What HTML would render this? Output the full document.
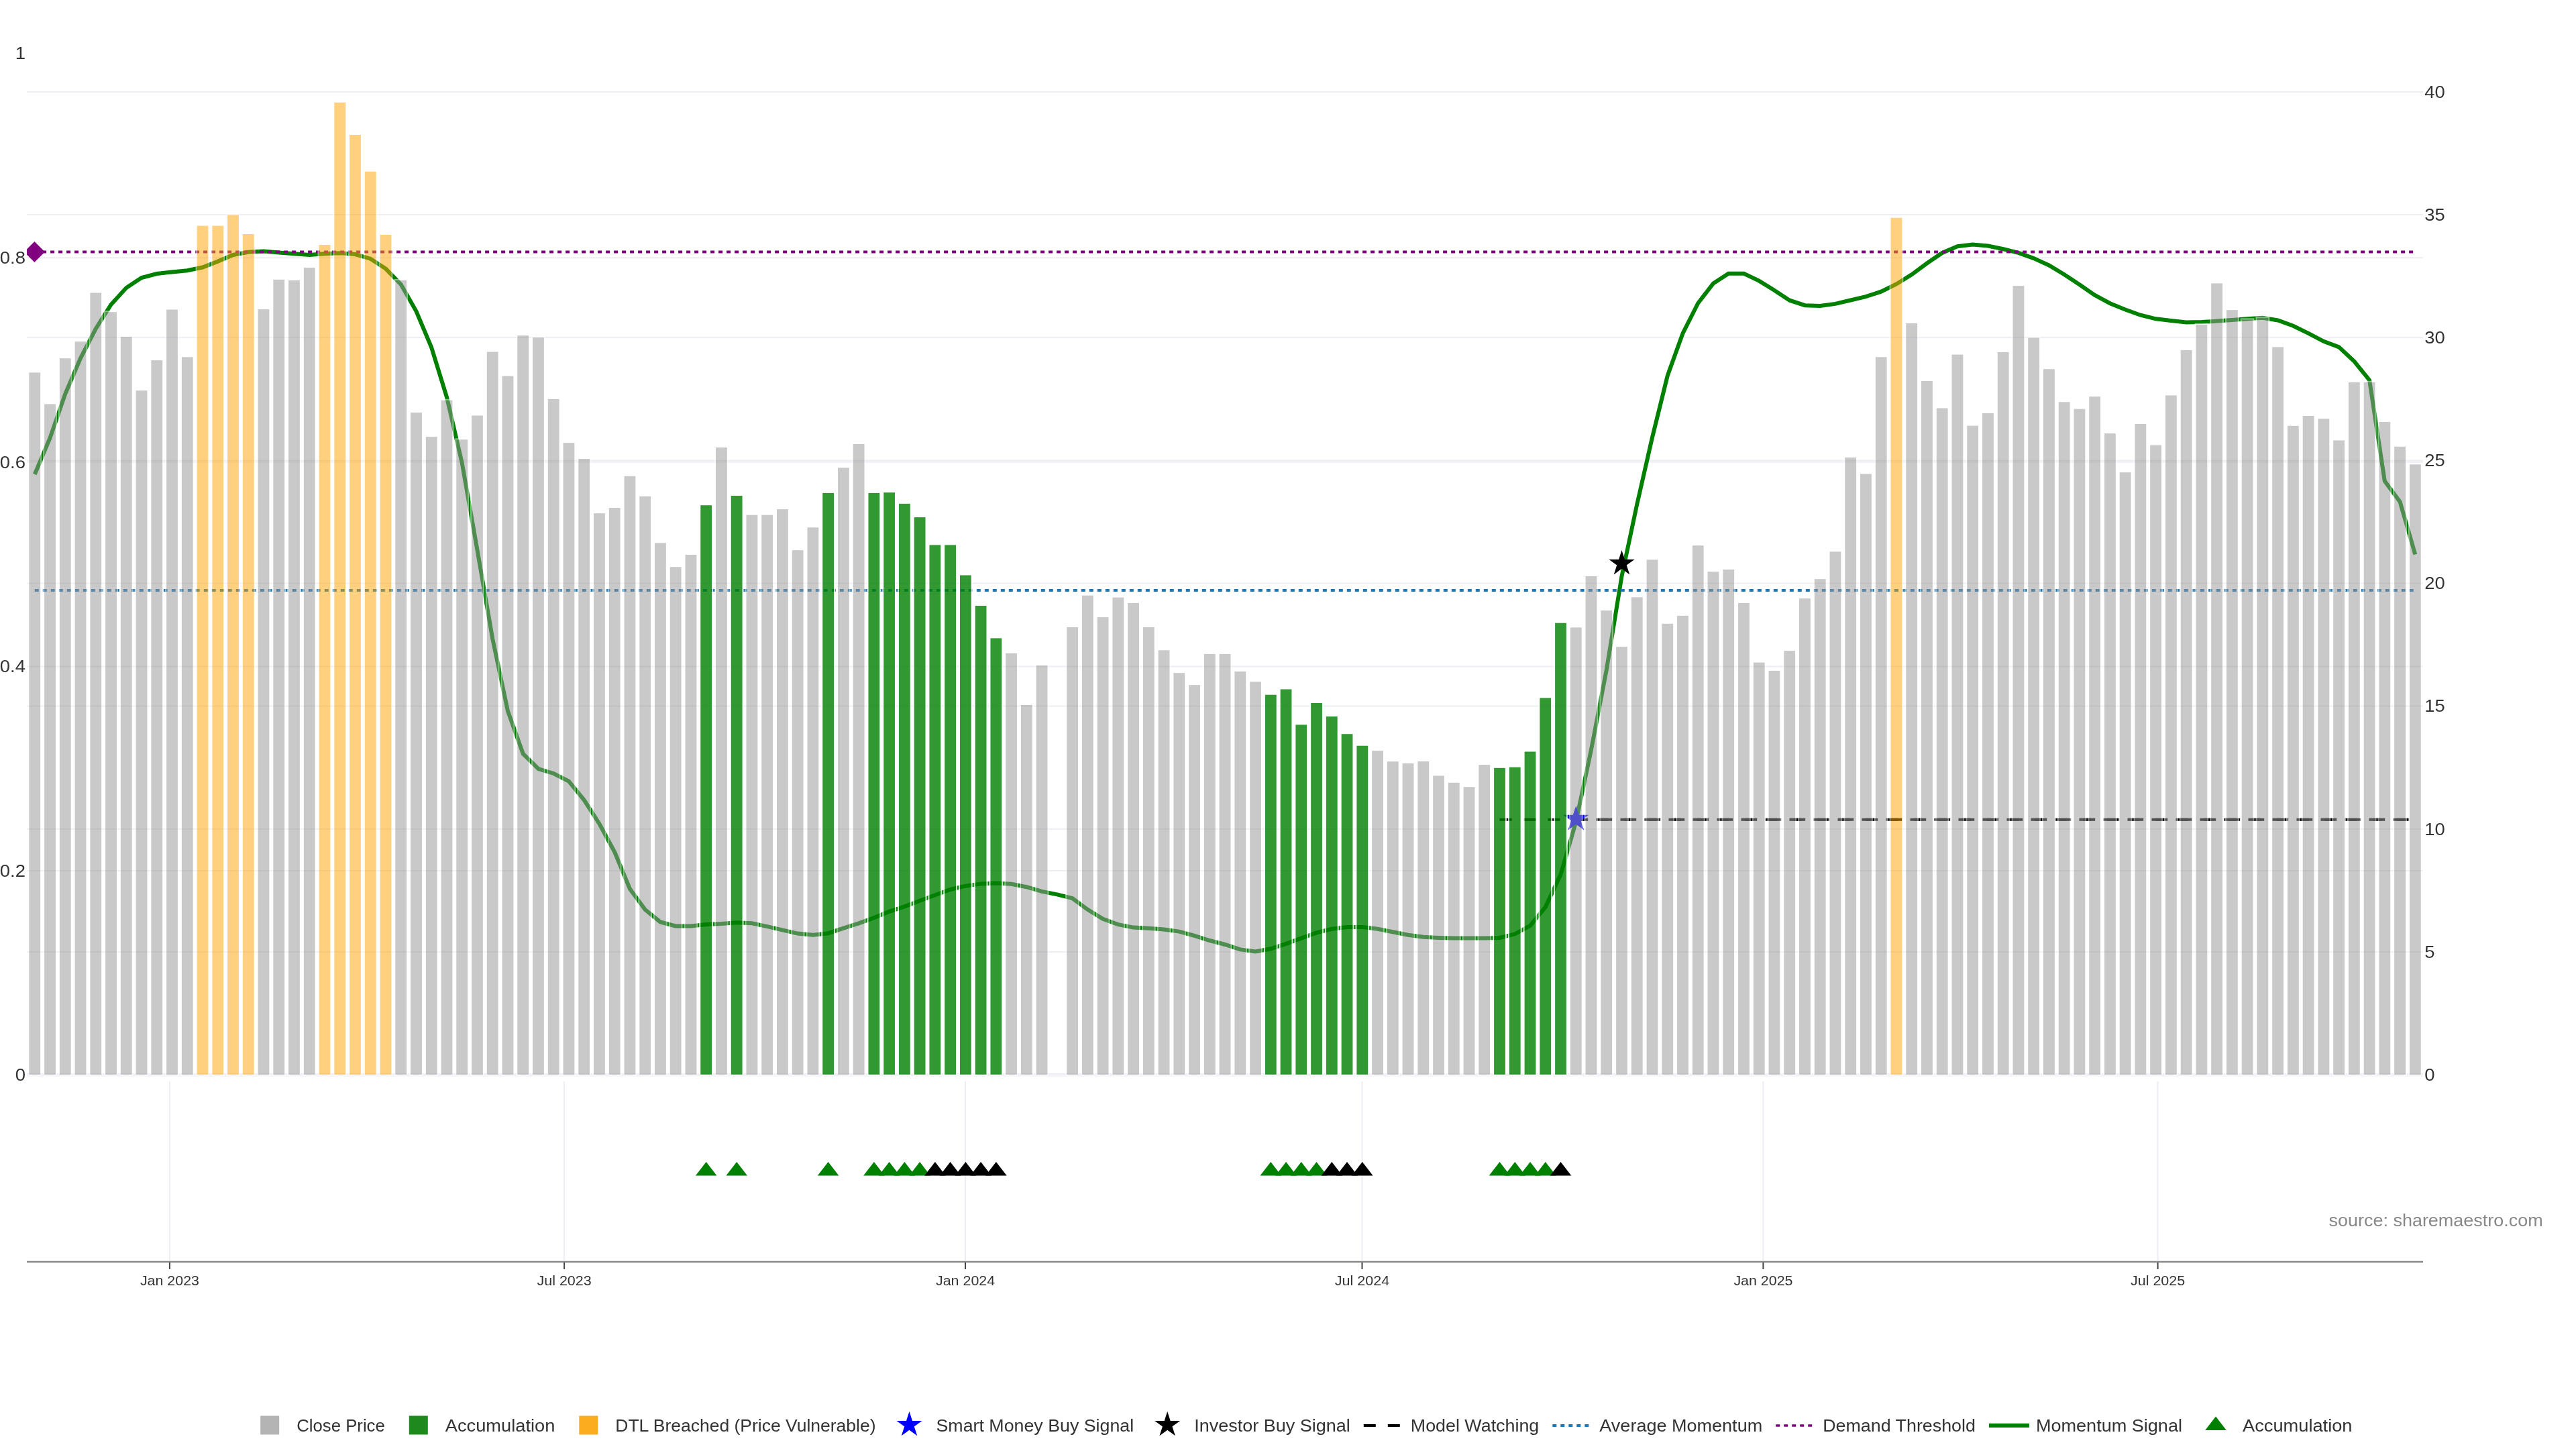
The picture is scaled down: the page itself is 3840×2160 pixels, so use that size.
<!DOCTYPE html><html><head><meta charset="utf-8"><style>html,body{margin:0;padding:0;background:#fff;width:3840px;height:2160px;overflow:hidden}svg{display:block;will-change:transform}</style></head><body>
<svg width="3840" height="2160" viewBox="0 0 3840 2160" style="font-family:'Liberation Sans',sans-serif">
<rect width="3840" height="2160" fill="#fff"/>
<defs><clipPath id="pc"><rect x="40" y="40" width="3572" height="1575"/></clipPath></defs>
<line x1="40" x2="3612" y1="1601.0" y2="1601.0" stroke="#ededf4" stroke-width="2"/>
<line x1="40" x2="3612" y1="1418.9" y2="1418.9" stroke="#ededf4" stroke-width="2"/>
<line x1="40" x2="3612" y1="1235.8" y2="1235.8" stroke="#ededf4" stroke-width="2"/>
<line x1="40" x2="3612" y1="1052.6" y2="1052.6" stroke="#ededf4" stroke-width="2"/>
<line x1="40" x2="3612" y1="869.5" y2="869.5" stroke="#ededf4" stroke-width="2"/>
<line x1="40" x2="3612" y1="686.4" y2="686.4" stroke="#ededf4" stroke-width="2"/>
<line x1="40" x2="3612" y1="503.2" y2="503.2" stroke="#ededf4" stroke-width="2"/>
<line x1="40" x2="3612" y1="320.1" y2="320.1" stroke="#ededf4" stroke-width="2"/>
<line x1="40" x2="3612" y1="137.0" y2="137.0" stroke="#ededf4" stroke-width="2"/>
<line x1="40" x2="3612" y1="1298.0" y2="1298.0" stroke="#ededf4" stroke-width="2"/>
<line x1="40" x2="3612" y1="993.4" y2="993.4" stroke="#ededf4" stroke-width="2"/>
<line x1="40" x2="3612" y1="688.8" y2="688.8" stroke="#ededf4" stroke-width="2"/>
<line x1="40" x2="3612" y1="384.2" y2="384.2" stroke="#ededf4" stroke-width="2"/>
<line x1="40" x2="3612" y1="1603.6" y2="1603.6" stroke="#f0f0f4" stroke-width="1.6"/>
<line x1="252.9" x2="252.9" y1="1612" y2="1879" stroke="#ededf4" stroke-width="2"/>
<line x1="841.1" x2="841.1" y1="1612" y2="1879" stroke="#ededf4" stroke-width="2"/>
<line x1="1439.0" x2="1439.0" y1="1612" y2="1879" stroke="#ededf4" stroke-width="2"/>
<line x1="2030.5" x2="2030.5" y1="1612" y2="1879" stroke="#ededf4" stroke-width="2"/>
<line x1="2628.4" x2="2628.4" y1="1612" y2="1879" stroke="#ededf4" stroke-width="2"/>
<line x1="3216.6" x2="3216.6" y1="1612" y2="1879" stroke="#ededf4" stroke-width="2"/>
<line x1="40" x2="3612" y1="1881" y2="1881" stroke="#8a8a8a" stroke-width="2.4"/>
<line x1="252.9" x2="252.9" y1="1882" y2="1892" stroke="#444" stroke-width="2"/>
<text x="208.9" y="1916" font-size="21.10" fill="#333" textLength="88.1" lengthAdjust="spacingAndGlyphs">Jan 2023</text>
<line x1="841.1" x2="841.1" y1="1882" y2="1892" stroke="#444" stroke-width="2"/>
<text x="800.4" y="1916" font-size="21.10" fill="#333" textLength="81.4" lengthAdjust="spacingAndGlyphs">Jul 2023</text>
<line x1="1439.0" x2="1439.0" y1="1882" y2="1892" stroke="#444" stroke-width="2"/>
<text x="1395.0" y="1916" font-size="21.10" fill="#333" textLength="88.1" lengthAdjust="spacingAndGlyphs">Jan 2024</text>
<line x1="2030.5" x2="2030.5" y1="1882" y2="1892" stroke="#444" stroke-width="2"/>
<text x="1989.8" y="1916" font-size="21.10" fill="#333" textLength="81.4" lengthAdjust="spacingAndGlyphs">Jul 2024</text>
<line x1="2628.4" x2="2628.4" y1="1882" y2="1892" stroke="#444" stroke-width="2"/>
<text x="2584.4" y="1916" font-size="21.10" fill="#333" textLength="88.1" lengthAdjust="spacingAndGlyphs">Jan 2025</text>
<line x1="3216.6" x2="3216.6" y1="1882" y2="1892" stroke="#444" stroke-width="2"/>
<text x="3175.9" y="1916" font-size="21.10" fill="#333" textLength="81.4" lengthAdjust="spacingAndGlyphs">Jul 2025</text>
<g clip-path="url(#pc)">
<polyline points="51.8,707.0 74.5,653.0 97.3,587.0 120.0,534.0 142.8,490.0 165.5,454.0 188.3,429.0 211.0,414.0 233.8,408.0 256.5,405.5 279.3,403.3 302.0,398.5 324.8,389.6 347.5,380.0 370.3,375.7 393.0,374.6 415.8,376.4 438.5,378.3 461.2,380.1 484.0,378.3 506.7,377.2 529.5,379.0 552.2,385.7 575.0,400.6 597.7,424.0 620.5,464.0 643.2,518.0 666.0,592.0 688.7,690.0 711.5,820.0 734.2,952.0 757.0,1060.0 779.7,1123.6 802.5,1146.0 825.2,1153.0 847.9,1164.6 870.7,1192.6 893.4,1228.0 916.2,1270.0 938.9,1325.0 961.7,1356.0 984.4,1374.4 1007.2,1380.4 1029.9,1380.4 1052.7,1378.1 1075.4,1377.0 1098.2,1375.2 1120.9,1376.3 1143.7,1381.1 1166.4,1386.3 1189.1,1391.6 1211.9,1393.8 1234.6,1391.2 1257.4,1383.7 1280.1,1376.3 1302.9,1368.1 1325.6,1358.8 1348.4,1351.3 1371.1,1342.7 1393.9,1334.2 1416.6,1326.0 1439.4,1320.7 1462.1,1317.4 1484.9,1316.6 1507.6,1317.8 1530.4,1322.2 1553.1,1328.9 1575.8,1333.4 1598.6,1339.0 1621.3,1355.8 1644.1,1369.9 1666.8,1378.1 1689.6,1382.6 1712.3,1383.7 1735.1,1385.6 1757.8,1388.6 1780.6,1394.9 1803.3,1402.0 1826.1,1408.0 1848.8,1415.4 1871.6,1418.4 1894.3,1414.3 1917.1,1406.8 1939.8,1398.6 1962.5,1390.4 1985.3,1384.8 2008.0,1381.9 2030.8,1381.9 2053.5,1384.8 2076.3,1389.3 2099.0,1393.8 2121.8,1396.8 2144.5,1397.9 2167.3,1398.6 2190.0,1398.6 2212.8,1398.6 2235.5,1397.9 2258.3,1392.3 2281.0,1380.0 2303.8,1352.1 2326.5,1303.6 2349.2,1225.3 2372.0,1117.3 2394.7,999.0 2417.5,859.0 2440.2,752.0 2463.0,652.0 2485.7,560.2 2508.5,496.9 2531.2,452.0 2554.0,422.4 2576.7,407.8 2599.5,407.8 2622.2,418.6 2645.0,432.8 2667.7,447.7 2690.5,455.2 2713.2,455.9 2735.9,452.9 2758.7,447.5 2781.4,442.1 2804.2,434.7 2826.9,423.5 2849.7,409.3 2872.4,392.5 2895.2,377.0 2917.9,367.2 2940.7,364.6 2963.4,366.5 2986.2,371.3 3008.9,376.9 3031.7,385.1 3054.4,395.5 3077.2,409.3 3099.9,424.2 3122.6,439.9 3145.4,452.2 3168.1,461.5 3190.9,469.7 3213.6,475.3 3236.4,478.0 3259.1,480.5 3281.9,480.1 3304.6,478.6 3327.4,477.1 3350.1,475.3 3372.9,473.8 3395.6,477.5 3418.4,485.7 3441.1,496.9 3463.9,508.8 3486.6,517.4 3509.3,538.6 3532.1,566.7 3554.8,717.0 3577.6,748.0 3600.3,826.5" fill="none" stroke="#008000" stroke-width="6"/>
<line x1="51.8" x2="3600.3" y1="880" y2="880" stroke="#1f77b4" stroke-width="4" stroke-dasharray="6,6"/>
<line x1="51.1" x2="3600.3" y1="375.4" y2="375.4" stroke="#800080" stroke-width="4" stroke-dasharray="6,6"/>
<line x1="2235.5" x2="3600.3" y1="1221.7" y2="1221.7" stroke="#000" stroke-width="4" stroke-dasharray="18,18"/>
<line x1="2349.2" x2="3600.3" y1="1221.7" y2="1221.7" stroke="#000" stroke-width="4" stroke-dasharray="18,18"/>
<path transform="translate(2349.3,1221.0)" d="M4.50,-6.18H19.02L7.26,2.36L11.76,16.18L0,7.64L-11.76,16.18L-7.26,2.36L-19.02,-6.18H-4.50L0,-20.00Z" fill="#0000ff"/>
<path transform="translate(2417.5,840.2)" d="M4.50,-6.18H19.02L7.26,2.36L11.76,16.18L0,7.64L-11.76,16.18L-7.26,2.36L-19.02,-6.18H-4.50L0,-20.00Z" fill="#000"/>
<path d="M51.4,360 L66.9,375.5 L51.4,391 L35.9,375.5 Z" fill="#800080"/>
</g>
<g opacity="0.52" fill="#989898" stroke="#fff" stroke-width="2.0">
<rect x="42.40" y="554.4" width="18.80" height="1048.4"/>
<rect x="65.15" y="601.4" width="18.80" height="1001.4"/>
<rect x="87.89" y="533.2" width="18.80" height="1069.6"/>
<rect x="110.64" y="508.2" width="18.80" height="1094.6"/>
<rect x="133.39" y="435.5" width="18.80" height="1167.3"/>
<rect x="156.13" y="464.2" width="18.80" height="1138.6"/>
<rect x="178.88" y="501.1" width="18.80" height="1101.7"/>
<rect x="201.63" y="581.2" width="18.80" height="1021.6"/>
<rect x="224.38" y="536.1" width="18.80" height="1066.7"/>
<rect x="247.12" y="460.5" width="18.80" height="1142.3"/>
<rect x="269.87" y="531.3" width="18.80" height="1071.5"/>
<rect x="383.61" y="460.1" width="18.80" height="1142.7"/>
<rect x="406.35" y="415.8" width="18.80" height="1187.0"/>
<rect x="429.10" y="416.9" width="18.80" height="1185.9"/>
<rect x="451.85" y="398.0" width="18.80" height="1204.8"/>
<rect x="588.33" y="416.9" width="18.80" height="1185.9"/>
<rect x="611.07" y="614.0" width="18.80" height="988.8"/>
<rect x="633.82" y="650.2" width="18.80" height="952.6"/>
<rect x="656.57" y="595.8" width="18.80" height="1007.0"/>
<rect x="679.32" y="654.3" width="18.80" height="948.5"/>
<rect x="702.06" y="618.5" width="18.80" height="984.3"/>
<rect x="724.81" y="523.5" width="18.80" height="1079.3"/>
<rect x="747.56" y="559.6" width="18.80" height="1043.2"/>
<rect x="770.30" y="499.2" width="18.80" height="1103.6"/>
<rect x="793.05" y="502.2" width="18.80" height="1100.6"/>
<rect x="815.80" y="593.9" width="18.80" height="1008.9"/>
<rect x="838.54" y="659.1" width="18.80" height="943.7"/>
<rect x="861.29" y="683.0" width="18.80" height="919.8"/>
<rect x="884.04" y="764.2" width="18.80" height="838.6"/>
<rect x="906.79" y="756.0" width="18.80" height="846.8"/>
<rect x="929.53" y="708.8" width="18.80" height="894.0"/>
<rect x="952.28" y="739.0" width="18.80" height="863.8"/>
<rect x="975.03" y="808.4" width="18.80" height="794.4"/>
<rect x="997.77" y="844.2" width="18.80" height="758.6"/>
<rect x="1020.52" y="826.0" width="18.80" height="776.8"/>
<rect x="1066.01" y="666.1" width="18.80" height="936.7"/>
<rect x="1111.51" y="766.7" width="18.80" height="836.1"/>
<rect x="1134.26" y="766.7" width="18.80" height="836.1"/>
<rect x="1157.00" y="758.1" width="18.80" height="844.7"/>
<rect x="1179.75" y="819.2" width="18.80" height="783.6"/>
<rect x="1202.50" y="785.3" width="18.80" height="817.5"/>
<rect x="1247.99" y="696.3" width="18.80" height="906.5"/>
<rect x="1270.74" y="660.9" width="18.80" height="941.9"/>
<rect x="1498.21" y="972.8" width="18.80" height="630.0"/>
<rect x="1520.95" y="1049.9" width="18.80" height="552.9"/>
<rect x="1543.70" y="991.0" width="18.80" height="611.8"/>
<rect x="1589.20" y="934.0" width="18.80" height="668.8"/>
<rect x="1611.94" y="886.7" width="18.80" height="716.1"/>
<rect x="1634.69" y="919.1" width="18.80" height="683.7"/>
<rect x="1657.44" y="889.7" width="18.80" height="713.1"/>
<rect x="1680.18" y="897.9" width="18.80" height="704.9"/>
<rect x="1702.93" y="934.0" width="18.80" height="668.8"/>
<rect x="1725.68" y="968.3" width="18.80" height="634.5"/>
<rect x="1748.42" y="1002.2" width="18.80" height="600.6"/>
<rect x="1771.17" y="1020.1" width="18.80" height="582.7"/>
<rect x="1793.92" y="973.9" width="18.80" height="628.9"/>
<rect x="1816.67" y="973.9" width="18.80" height="628.9"/>
<rect x="1839.41" y="1000.0" width="18.80" height="602.8"/>
<rect x="1862.16" y="1015.3" width="18.80" height="587.5"/>
<rect x="2044.14" y="1118.1" width="18.80" height="484.7"/>
<rect x="2066.88" y="1134.2" width="18.80" height="468.6"/>
<rect x="2089.63" y="1137.0" width="18.80" height="465.8"/>
<rect x="2112.38" y="1134.0" width="18.80" height="468.8"/>
<rect x="2135.12" y="1155.4" width="18.80" height="447.4"/>
<rect x="2157.87" y="1165.8" width="18.80" height="437.0"/>
<rect x="2180.62" y="1172.2" width="18.80" height="430.6"/>
<rect x="2203.37" y="1139.0" width="18.80" height="463.8"/>
<rect x="2339.85" y="934.4" width="18.80" height="668.4"/>
<rect x="2362.59" y="858.0" width="18.80" height="744.8"/>
<rect x="2385.34" y="909.1" width="18.80" height="693.7"/>
<rect x="2408.09" y="963.1" width="18.80" height="639.7"/>
<rect x="2430.84" y="889.3" width="18.80" height="713.5"/>
<rect x="2453.58" y="833.4" width="18.80" height="769.4"/>
<rect x="2476.33" y="928.8" width="18.80" height="674.0"/>
<rect x="2499.08" y="916.9" width="18.80" height="685.9"/>
<rect x="2521.82" y="812.2" width="18.80" height="790.6"/>
<rect x="2544.57" y="851.3" width="18.80" height="751.5"/>
<rect x="2567.32" y="848.0" width="18.80" height="754.8"/>
<rect x="2590.06" y="897.9" width="18.80" height="704.9"/>
<rect x="2612.81" y="986.6" width="18.80" height="616.2"/>
<rect x="2635.56" y="998.9" width="18.80" height="603.9"/>
<rect x="2658.31" y="969.1" width="18.80" height="633.7"/>
<rect x="2681.05" y="891.2" width="18.80" height="711.6"/>
<rect x="2703.80" y="862.2" width="18.80" height="740.6"/>
<rect x="2726.55" y="821.4" width="18.80" height="781.4"/>
<rect x="2749.29" y="681.0" width="18.80" height="921.8"/>
<rect x="2772.04" y="705.5" width="18.80" height="897.3"/>
<rect x="2794.79" y="531.3" width="18.80" height="1071.5"/>
<rect x="2840.28" y="481.0" width="18.80" height="1121.8"/>
<rect x="2863.03" y="567.0" width="18.80" height="1035.8"/>
<rect x="2885.78" y="607.5" width="18.80" height="995.3"/>
<rect x="2908.52" y="527.6" width="18.80" height="1075.2"/>
<rect x="2931.27" y="633.7" width="18.80" height="969.1"/>
<rect x="2954.02" y="615.0" width="18.80" height="987.8"/>
<rect x="2976.76" y="523.9" width="18.80" height="1078.9"/>
<rect x="2999.51" y="425.1" width="18.80" height="1177.7"/>
<rect x="3022.26" y="502.6" width="18.80" height="1100.2"/>
<rect x="3045.00" y="549.2" width="18.80" height="1053.6"/>
<rect x="3067.75" y="598.3" width="18.80" height="1004.5"/>
<rect x="3090.50" y="608.7" width="18.80" height="994.1"/>
<rect x="3113.24" y="590.2" width="18.80" height="1012.6"/>
<rect x="3135.99" y="645.1" width="18.80" height="957.7"/>
<rect x="3158.74" y="703.2" width="18.80" height="899.6"/>
<rect x="3181.49" y="631.0" width="18.80" height="971.8"/>
<rect x="3204.23" y="662.6" width="18.80" height="940.2"/>
<rect x="3226.98" y="588.4" width="18.80" height="1014.4"/>
<rect x="3249.73" y="520.9" width="18.80" height="1081.9"/>
<rect x="3272.47" y="482.9" width="18.80" height="1119.9"/>
<rect x="3295.22" y="421.4" width="18.80" height="1181.4"/>
<rect x="3317.97" y="461.2" width="18.80" height="1141.6"/>
<rect x="3340.72" y="475.4" width="18.80" height="1127.4"/>
<rect x="3363.46" y="472.8" width="18.80" height="1130.0"/>
<rect x="3386.21" y="516.4" width="18.80" height="1086.4"/>
<rect x="3408.96" y="633.8" width="18.80" height="969.0"/>
<rect x="3431.70" y="619.0" width="18.80" height="983.8"/>
<rect x="3454.45" y="623.2" width="18.80" height="979.6"/>
<rect x="3477.20" y="655.5" width="18.80" height="947.3"/>
<rect x="3499.94" y="568.8" width="18.80" height="1034.0"/>
<rect x="3522.69" y="568.8" width="18.80" height="1034.0"/>
<rect x="3545.44" y="628.0" width="18.80" height="974.8"/>
<rect x="3568.18" y="664.8" width="18.80" height="938.0"/>
<rect x="3590.93" y="691.3" width="18.80" height="911.5"/>
</g>
<g opacity="0.5" fill="#ffa500" stroke="#fff" stroke-width="2.0">
<rect x="292.62" y="335.6" width="18.80" height="1267.2"/>
<rect x="315.36" y="335.6" width="18.80" height="1267.2"/>
<rect x="338.11" y="319.5" width="18.80" height="1283.3"/>
<rect x="360.86" y="348.0" width="18.80" height="1254.8"/>
<rect x="474.59" y="364.0" width="18.80" height="1238.8"/>
<rect x="497.34" y="151.8" width="18.80" height="1451.0"/>
<rect x="520.09" y="200.0" width="18.80" height="1402.8"/>
<rect x="542.83" y="254.7" width="18.80" height="1348.1"/>
<rect x="565.58" y="349.0" width="18.80" height="1253.8"/>
<rect x="2817.53" y="323.7" width="18.80" height="1279.1"/>
</g>
<g opacity="0.8" fill="#008000" stroke="#fff" stroke-width="2.0">
<rect x="1043.27" y="752.2" width="18.80" height="850.6"/>
<rect x="1088.76" y="738.0" width="18.80" height="864.8"/>
<rect x="1225.24" y="733.9" width="18.80" height="868.9"/>
<rect x="1293.48" y="733.9" width="18.80" height="868.9"/>
<rect x="1316.23" y="733.2" width="18.80" height="869.6"/>
<rect x="1338.98" y="749.9" width="18.80" height="852.9"/>
<rect x="1361.73" y="770.1" width="18.80" height="832.7"/>
<rect x="1384.47" y="811.4" width="18.80" height="791.4"/>
<rect x="1407.22" y="811.4" width="18.80" height="791.4"/>
<rect x="1429.97" y="856.5" width="18.80" height="746.3"/>
<rect x="1452.71" y="902.0" width="18.80" height="700.8"/>
<rect x="1475.46" y="950.4" width="18.80" height="652.4"/>
<rect x="1884.91" y="1034.7" width="18.80" height="568.1"/>
<rect x="1907.65" y="1026.5" width="18.80" height="576.3"/>
<rect x="1930.40" y="1079.4" width="18.80" height="523.4"/>
<rect x="1953.15" y="1047.0" width="18.80" height="555.8"/>
<rect x="1975.89" y="1067.1" width="18.80" height="535.7"/>
<rect x="1998.64" y="1093.2" width="18.80" height="509.6"/>
<rect x="2021.39" y="1110.7" width="18.80" height="492.1"/>
<rect x="2226.11" y="1143.8" width="18.80" height="459.0"/>
<rect x="2248.86" y="1142.7" width="18.80" height="460.1"/>
<rect x="2271.61" y="1119.5" width="18.80" height="483.3"/>
<rect x="2294.35" y="1039.5" width="18.80" height="563.3"/>
<rect x="2317.10" y="927.7" width="18.80" height="675.1"/>
</g>
<path transform="translate(1052.7,1745.7)" d="M-15.82,6.85H15.82L0,-13.70Z" fill="#008000"/>
<path transform="translate(1098.2,1745.7)" d="M-15.82,6.85H15.82L0,-13.70Z" fill="#008000"/>
<path transform="translate(1234.6,1745.7)" d="M-15.82,6.85H15.82L0,-13.70Z" fill="#008000"/>
<path transform="translate(1302.9,1745.7)" d="M-15.82,6.85H15.82L0,-13.70Z" fill="#008000"/>
<path transform="translate(1325.6,1745.7)" d="M-15.82,6.85H15.82L0,-13.70Z" fill="#008000"/>
<path transform="translate(1348.4,1745.7)" d="M-15.82,6.85H15.82L0,-13.70Z" fill="#008000"/>
<path transform="translate(1371.1,1745.7)" d="M-15.82,6.85H15.82L0,-13.70Z" fill="#008000"/>
<path transform="translate(1894.3,1745.7)" d="M-15.82,6.85H15.82L0,-13.70Z" fill="#008000"/>
<path transform="translate(1917.1,1745.7)" d="M-15.82,6.85H15.82L0,-13.70Z" fill="#008000"/>
<path transform="translate(1939.8,1745.7)" d="M-15.82,6.85H15.82L0,-13.70Z" fill="#008000"/>
<path transform="translate(1962.5,1745.7)" d="M-15.82,6.85H15.82L0,-13.70Z" fill="#008000"/>
<path transform="translate(2235.5,1745.7)" d="M-15.82,6.85H15.82L0,-13.70Z" fill="#008000"/>
<path transform="translate(2258.3,1745.7)" d="M-15.82,6.85H15.82L0,-13.70Z" fill="#008000"/>
<path transform="translate(2281.0,1745.7)" d="M-15.82,6.85H15.82L0,-13.70Z" fill="#008000"/>
<path transform="translate(2303.8,1745.7)" d="M-15.82,6.85H15.82L0,-13.70Z" fill="#008000"/>
<path transform="translate(1393.9,1745.7)" d="M-15.82,6.85H15.82L0,-13.70Z" fill="#000"/>
<path transform="translate(1416.6,1745.7)" d="M-15.82,6.85H15.82L0,-13.70Z" fill="#000"/>
<path transform="translate(1439.4,1745.7)" d="M-15.82,6.85H15.82L0,-13.70Z" fill="#000"/>
<path transform="translate(1462.1,1745.7)" d="M-15.82,6.85H15.82L0,-13.70Z" fill="#000"/>
<path transform="translate(1484.9,1745.7)" d="M-15.82,6.85H15.82L0,-13.70Z" fill="#000"/>
<path transform="translate(1985.3,1745.7)" d="M-15.82,6.85H15.82L0,-13.70Z" fill="#000"/>
<path transform="translate(2008.0,1745.7)" d="M-15.82,6.85H15.82L0,-13.70Z" fill="#000"/>
<path transform="translate(2030.8,1745.7)" d="M-15.82,6.85H15.82L0,-13.70Z" fill="#000"/>
<path transform="translate(2326.5,1745.7)" d="M-15.82,6.85H15.82L0,-13.70Z" fill="#000"/>
<text x="22.7" y="88.4" font-size="25.32" fill="#333" textLength="15.3" lengthAdjust="spacingAndGlyphs">1</text>
<text x="-0.2" y="393.0" font-size="25.32" fill="#333" textLength="38.2" lengthAdjust="spacingAndGlyphs">0.8</text>
<text x="-0.2" y="697.6" font-size="25.32" fill="#333" textLength="38.2" lengthAdjust="spacingAndGlyphs">0.6</text>
<text x="-0.2" y="1002.2" font-size="25.32" fill="#333" textLength="38.2" lengthAdjust="spacingAndGlyphs">0.4</text>
<text x="-0.2" y="1306.8" font-size="25.32" fill="#333" textLength="38.2" lengthAdjust="spacingAndGlyphs">0.2</text>
<text x="22.7" y="1611.4" font-size="25.32" fill="#333" textLength="15.3" lengthAdjust="spacingAndGlyphs">0</text>
<text x="3614.3" y="1610.7" font-size="25.32" fill="#333" textLength="15.3" lengthAdjust="spacingAndGlyphs">0</text>
<text x="3614.3" y="1427.6" font-size="25.32" fill="#333" textLength="15.3" lengthAdjust="spacingAndGlyphs">5</text>
<text x="3614.3" y="1244.5" font-size="25.32" fill="#333" textLength="30.5" lengthAdjust="spacingAndGlyphs">10</text>
<text x="3614.3" y="1061.3" font-size="25.32" fill="#333" textLength="30.5" lengthAdjust="spacingAndGlyphs">15</text>
<text x="3614.3" y="878.2" font-size="25.32" fill="#333" textLength="30.5" lengthAdjust="spacingAndGlyphs">20</text>
<text x="3614.3" y="695.1" font-size="25.32" fill="#333" textLength="30.5" lengthAdjust="spacingAndGlyphs">25</text>
<text x="3614.3" y="511.9" font-size="25.32" fill="#333" textLength="30.5" lengthAdjust="spacingAndGlyphs">30</text>
<text x="3614.3" y="328.8" font-size="25.32" fill="#333" textLength="30.5" lengthAdjust="spacingAndGlyphs">35</text>
<text x="3614.3" y="145.7" font-size="25.32" fill="#333" textLength="30.5" lengthAdjust="spacingAndGlyphs">40</text>
<text x="3471.5" y="1828.0" font-size="25.32" fill="#888" textLength="319.2" lengthAdjust="spacingAndGlyphs">source: sharemaestro.com</text>
<rect x="388.2" y="2110.5" width="28" height="28" fill="#b4b4b4"/>
<text x="442.2" y="2134.2" font-size="25.32" fill="#333" textLength="131.6" lengthAdjust="spacingAndGlyphs">Close Price</text>
<rect x="609.8" y="2110.5" width="28" height="28" fill="#1e8a1e"/>
<text x="663.8" y="2134.2" font-size="25.32" fill="#333" textLength="163.5" lengthAdjust="spacingAndGlyphs">Accumulation</text>
<rect x="863.3" y="2110.5" width="28" height="28" fill="#fbad1f"/>
<text x="917.3" y="2134.2" font-size="25.32" fill="#333" textLength="388.2" lengthAdjust="spacingAndGlyphs">DTL Breached (Price Vulnerable)</text>
<path transform="translate(1355.5,2124.1)" d="M4.50,-6.18H19.02L7.26,2.36L11.76,16.18L0,7.64L-11.76,16.18L-7.26,2.36L-19.02,-6.18H-4.50L0,-20.00Z" fill="#0000ff"/>
<text x="1395.5" y="2134.2" font-size="25.32" fill="#333" textLength="294.7" lengthAdjust="spacingAndGlyphs">Smart Money Buy Signal</text>
<path transform="translate(1740.2,2124.1)" d="M4.50,-6.18H19.02L7.26,2.36L11.76,16.18L0,7.64L-11.76,16.18L-7.26,2.36L-19.02,-6.18H-4.50L0,-20.00Z" fill="#000"/>
<text x="1780.2" y="2134.2" font-size="25.32" fill="#333" textLength="232.6" lengthAdjust="spacingAndGlyphs">Investor Buy Signal</text>
<line x1="2032.8" x2="2092.8" y1="2125" y2="2125" stroke="#000" stroke-width="4" stroke-dasharray="18,18"/>
<text x="2102.8" y="2134.2" font-size="25.32" fill="#333" textLength="191.5" lengthAdjust="spacingAndGlyphs">Model Watching</text>
<line x1="2314.3" x2="2374.3" y1="2125" y2="2125" stroke="#1f77b4" stroke-width="4" stroke-dasharray="6,6"/>
<text x="2384.3" y="2134.2" font-size="25.32" fill="#333" textLength="242.9" lengthAdjust="spacingAndGlyphs">Average Momentum</text>
<line x1="2647.2" x2="2707.2" y1="2125" y2="2125" stroke="#800080" stroke-width="3.6" stroke-dasharray="6,6"/>
<text x="2717.2" y="2134.2" font-size="25.32" fill="#333" textLength="227.7" lengthAdjust="spacingAndGlyphs">Demand Threshold</text>
<line x1="2964.9" x2="3024.9" y1="2125" y2="2125" stroke="#008000" stroke-width="6"/>
<text x="3034.9" y="2134.2" font-size="25.32" fill="#333" textLength="218.1" lengthAdjust="spacingAndGlyphs">Momentum Signal</text>
<path transform="translate(3303.0,2125.2)" d="M-15.82,6.85H15.82L0,-13.70Z" fill="#008000"/>
<text x="3343.0" y="2134.2" font-size="25.32" fill="#333" textLength="163.5" lengthAdjust="spacingAndGlyphs">Accumulation</text>
</svg></body></html>
